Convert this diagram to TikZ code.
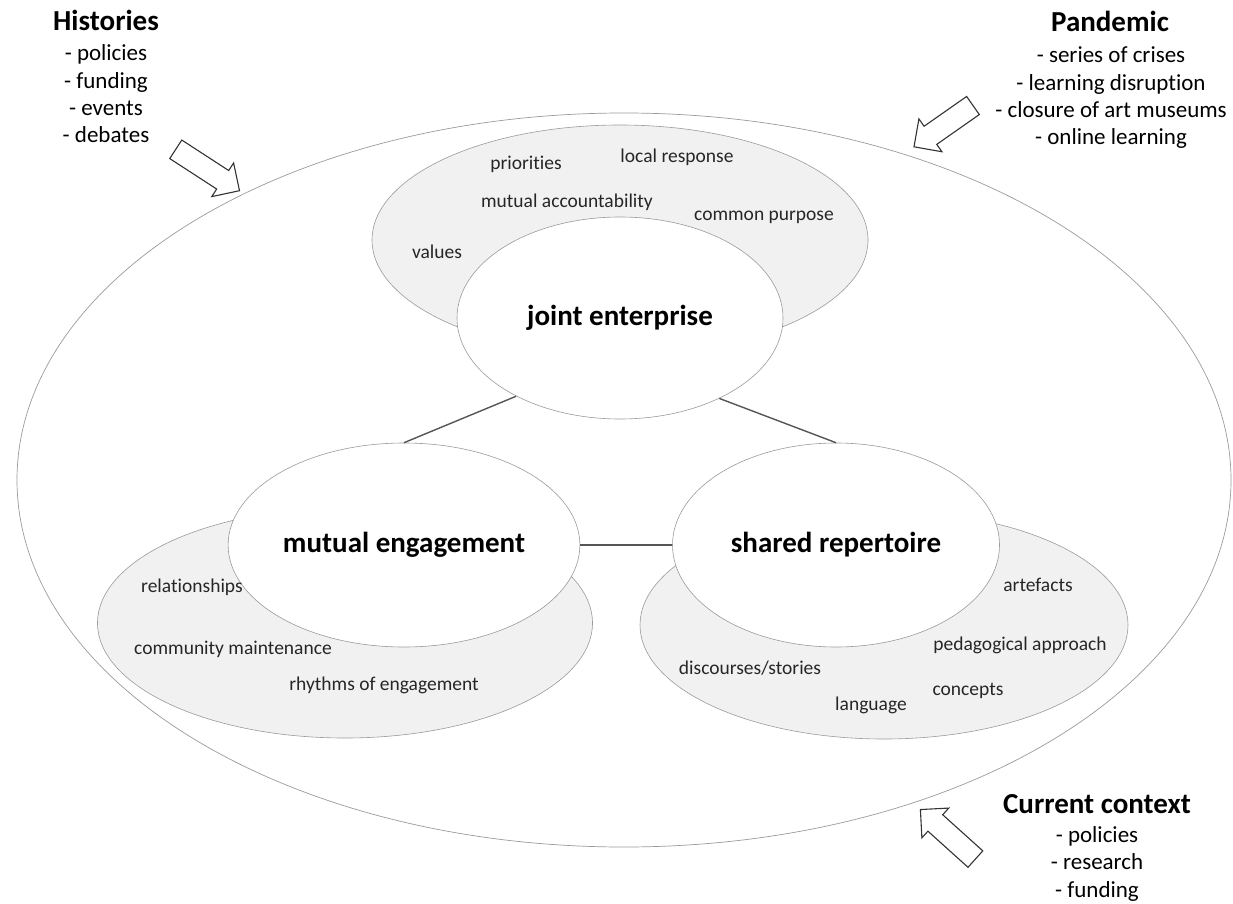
\documentclass[tikz,border=0pt]{standalone}
\usepackage{fontspec}
\setmainfont{Carlito}[Ligatures=NoCommon]
\usetikzlibrary{positioning,shapes.geometric,shapes.arrows}

\definecolor{ringgray}{HTML}{9A9A9A}
\definecolor{backfill}{HTML}{F1F1F1}
\definecolor{linkgray}{HTML}{555555}

\tikzset{
    backell/.style={ellipse,draw=ringgray,fill=backfill,line width=0.6pt},
    mainell/.style={ellipse,draw=ringgray,fill=white,line width=0.6pt,
        font=\fontsize{29}{34}\selectfont\bfseries},
    item/.style={font=\fontsize{19.5}{23}\selectfont,text=black!85,inner sep=0pt},
    title/.style={anchor=base,font=\fontsize{29}{34}\selectfont\bfseries,inner sep=0pt},
    listing/.style={anchor=base,align=center,font=\fontsize{23}{27.4}\selectfont,inner sep=0pt},
    blockarrow/.style={single arrow,draw=black!80,fill=white,line width=1.1pt,
        inner xsep=0pt,inner ysep=10.5pt,single arrow head extend=9pt,
        single arrow tip angle=90}
}

\begin{document}
\begin{tikzpicture}[x=1pt,y=-1pt]
    \useasboundingbox (0, 0) rectangle (1233, 904);

    % outer context
    \draw[ringgray,line width=0.7pt] (624, 480) ellipse [x radius=607, y radius=367];

    % shaded areas
    \node[backell,minimum width=496pt,minimum height=230pt] (jeBack) at (620, 240) {};
    \node[backell,minimum width=495pt,minimum height=230pt] (meBack) at (345, 623) {};
    \node[backell,minimum width=488pt,minimum height=228pt] (srBack) at (884, 625) {};

    % the three dimensions
    \node[mainell,minimum width=326pt,minimum height=202pt] (je) at (620, 318) {joint enterprise};
    \node[mainell,minimum width=328pt,minimum height=204pt] (me) at (404, 545) {mutual engagement};
    \node[mainell,minimum width=327pt,minimum height=204pt] (sr) at (836, 545) {shared repertoire};

    \draw[linkgray,line width=1.4pt] (je.217) -- (me.north);
    \draw[linkgray,line width=1.4pt] (je.321) -- (sr.north);
    \draw[linkgray,line width=1.4pt] (me.east) -- (sr.west);

    % joint enterprise
    \node[item] (priorities) at (526, 164) {priorities};
    \node[item] (localResp) at (677, 157) {local response};
    \node[item] (accountab) at (567, 202) {mutual accountability};
    \node[item] (purpose) at (764, 217) {common purpose};
    \node[item] (values) at (437, 252) {values};

    % mutual engagement
    \node[item] (relations) at (192, 587) {relationships};
    \node[item] (maintain) at (233, 649) {community maintenance};
    \node[item] (rhythms) at (384, 685) {rhythms of engagement};

    % shared repertoire
    \node[item] (artefacts) at (1038, 585) {artefacts};
    \node[item] (pedagogy) at (1020, 645) {pedagogical approach};
    \node[item] (stories) at (750, 668) {discourses/stories};
    \node[item] (concepts) at (968, 691) {concepts};
    \node[item] (language) at (871, 705) {language};

    % influences (listing sits on the baseline of its last line)
    \node[title] (histT) at (106, 31) {Histories};
    \node[listing] (histL) at (106, 143) {- policies\\- funding\\- events\\- debates};
    \node[title] (pandT) at (1110, 32) {Pandemic};
    \node[listing] (pandL) at (1111, 145) {- series of crises\\- learning disruption\\- closure of art museums\\- online learning};
    \node[title] (currT) at (1097, 813) {Current context};
    \node[listing] (currL) at (1097, 897) {- policies\\- research\\- funding};

    \node[blockarrow,minimum height=76pt,rotate=-33] (histA) at (203, 167) {};
    \node[blockarrow,minimum height=72pt,rotate=215] (pandA) at (948, 123) {};
    \node[blockarrow,minimum height=74pt,rotate=138] (currA) at (952, 838) {};
\end{tikzpicture}
\end{document}
